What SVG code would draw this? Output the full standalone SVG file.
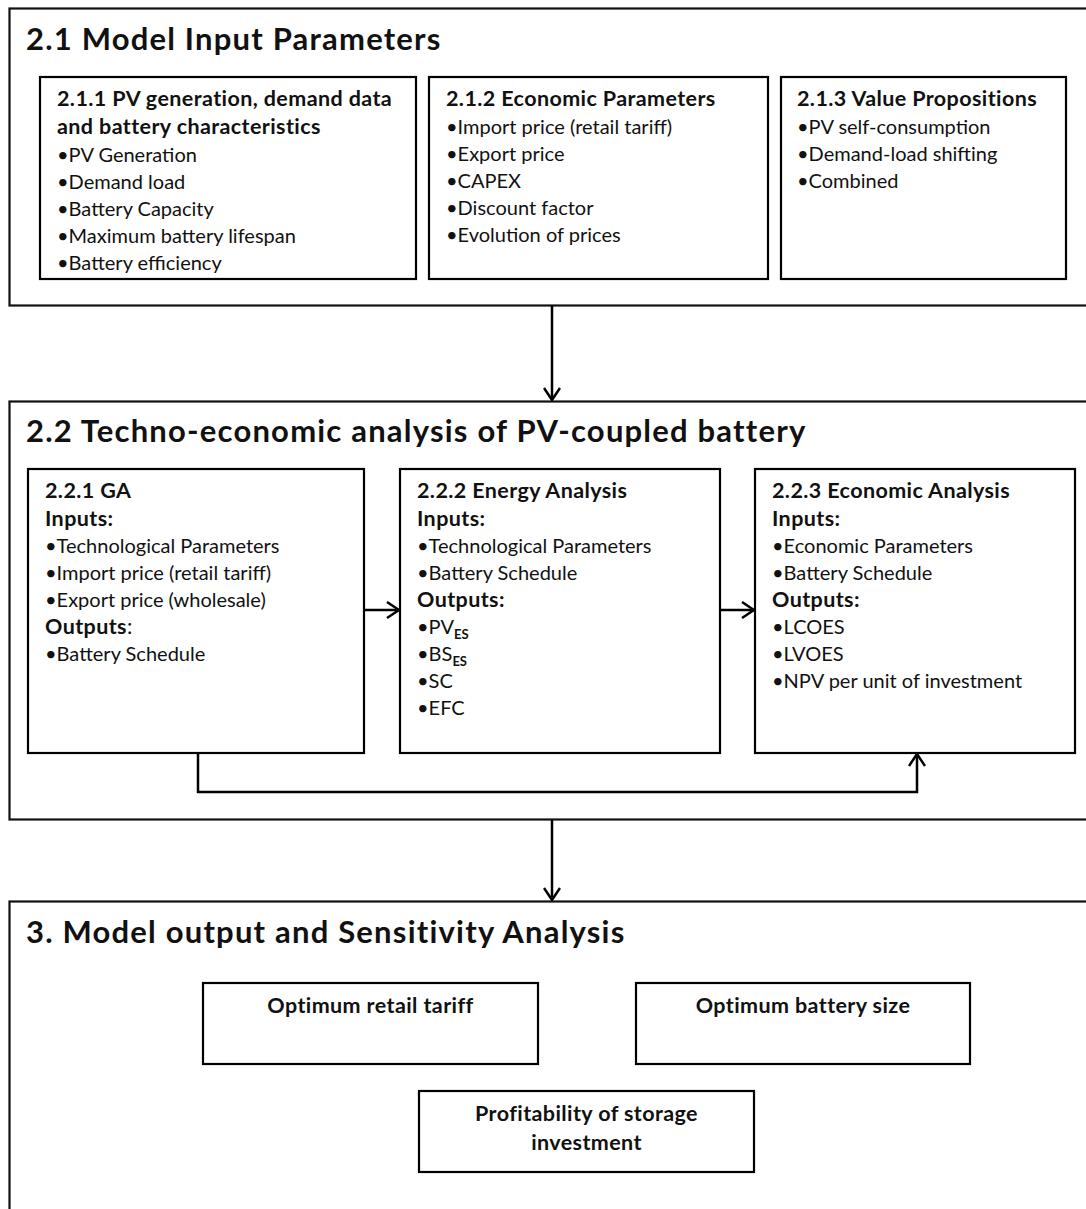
<svg xmlns="http://www.w3.org/2000/svg" width="1086" height="1209" viewBox="0 0 1086 1209">
<style>
.box{fill:none;stroke:#000;stroke-width:2.2}
.sec{fill:none;stroke:#111;stroke-width:2.2}
text{font-family:Lato,"Open Sans","Liberation Sans",sans-serif;fill:#111}
.ti{font-size:31px;font-weight:700;letter-spacing:1.2px}
.h{font-size:21.5px;font-weight:700;letter-spacing:0.4px}
.t{font-size:20px;font-weight:400}
.sub{font-size:13px;font-weight:700}
.conn{fill:none;stroke:#000;stroke-width:2.5}
</style>
<defs>
<marker id="arr" viewBox="0 0 14 18" refX="13" refY="9" markerWidth="14" markerHeight="18" markerUnits="userSpaceOnUse" orient="auto">
<path d="M1,1 L13,9 L1,17" fill="none" stroke="#000" stroke-width="2.5"/>
</marker>
</defs>
<rect width="1086" height="1209" fill="#fff"/>

<g id="sec-2-1">
<rect class="sec" x="9.5" y="8.5" width="1090" height="297"/>
<text class="ti" x="26" y="50">2.1 Model Input Parameters</text>
</g>
<g id="n-2-1-1">
<rect class="box" x="40" y="77" width="376" height="202"/>
<text class="h" x="57" y="106">2.1.1 PV generation, demand data</text>
<text class="h" x="57" y="134">and battery characteristics</text>
<text class="t" x="57" y="162">•PV Generation</text>
<text class="t" x="57" y="189">•Demand load</text>
<text class="t" x="57" y="216">•Battery Capacity</text>
<text class="t" x="57" y="243">•Maximum battery lifespan</text>
<text class="t" x="57" y="270">•Battery efficiency</text>
</g>
<g id="n-2-1-2">
<rect class="box" x="429" y="77" width="339" height="202"/>
<text class="h" x="446" y="106">2.1.2 Economic Parameters</text>
<text class="t" x="446" y="134">•Import price (retail tariff)</text>
<text class="t" x="446" y="161">•Export price</text>
<text class="t" x="446" y="188">•CAPEX</text>
<text class="t" x="446" y="215">•Discount factor</text>
<text class="t" x="446" y="242">•Evolution of prices</text>
</g>
<g id="n-2-1-3">
<rect class="box" x="781" y="77" width="285" height="202"/>
<text class="h" x="797" y="106">2.1.3 Value Propositions</text>
<text class="t" x="797" y="134">•PV self-consumption</text>
<text class="t" x="797" y="161">•Demand-load shifting</text>
<text class="t" x="797" y="188">•Combined</text>
</g>

<g id="sec-2-2">
<rect class="sec" x="9.5" y="401.5" width="1090" height="418"/>
<text class="ti" x="26" y="442">2.2 Techno-economic analysis of PV-coupled battery</text>
</g>
<g id="n-2-2-1">
<rect class="box" x="28" y="469" width="336" height="284"/>
<text class="h" x="45" y="498">2.2.1 GA</text>
<text class="h" x="45" y="526">Inputs:</text>
<text class="t" x="45" y="553">•Technological Parameters</text>
<text class="t" x="45" y="580">•Import price (retail tariff)</text>
<text class="t" x="45" y="607">•Export price (wholesale)</text>
<text class="h" x="45" y="634">Outputs<tspan font-weight="400">:</tspan></text>
<text class="t" x="45" y="661">•Battery Schedule</text>
</g>
<g id="n-2-2-2">
<rect class="box" x="400" y="469" width="320" height="284"/>
<text class="h" x="417" y="498">2.2.2 Energy Analysis</text>
<text class="h" x="417" y="526">Inputs:</text>
<text class="t" x="417" y="553">•Technological Parameters</text>
<text class="t" x="417" y="580">•Battery Schedule</text>
<text class="h" x="417" y="607">Outputs:</text>
<text class="t" x="417" y="634">•PV<tspan class="sub" dy="5">ES</tspan></text>
<text class="t" x="417" y="661">•BS<tspan class="sub" dy="5">ES</tspan></text>
<text class="t" x="417" y="688">•SC</text>
<text class="t" x="417" y="715">•EFC</text>
</g>
<g id="n-2-2-3">
<rect class="box" x="755" y="469" width="320" height="284"/>
<text class="h" x="772" y="498">2.2.3 Economic Analysis</text>
<text class="h" x="772" y="526">Inputs:</text>
<text class="t" x="772" y="553">•Economic Parameters</text>
<text class="t" x="772" y="580">•Battery Schedule</text>
<text class="h" x="772" y="607">Outputs:</text>
<text class="t" x="772" y="634">•LCOES</text>
<text class="t" x="772" y="661">•LVOES</text>
<text class="t" x="772" y="688">•NPV per unit of investment</text>
</g>

<g id="sec-3">
<rect class="sec" x="9.5" y="901.5" width="1090" height="320"/>
<text class="ti" x="26" y="943">3. Model output and Sensitivity Analysis</text>
</g>
<g id="n-tariff">
<rect class="box" x="203" y="983" width="335" height="81"/>
<text class="h" x="370.5" y="1013" text-anchor="middle">Optimum retail tariff</text>
</g>
<g id="n-size">
<rect class="box" x="636" y="983" width="334" height="81"/>
<text class="h" x="803" y="1013" text-anchor="middle">Optimum battery size</text>
</g>
<g id="n-profit">
<rect class="box" x="419" y="1091" width="335" height="81"/>
<text class="h" x="586.5" y="1121" text-anchor="middle">Profitability of storage</text>
<text class="h" x="586.5" y="1150" text-anchor="middle">investment</text>
</g>

<g id="connectors">
<path class="conn" d="M552,306 V400" marker-end="url(#arr)"/>
<path class="conn" d="M552,820 V900" marker-end="url(#arr)"/>
<path class="conn" d="M364,610 H399" marker-end="url(#arr)"/>
<path class="conn" d="M720,610 H754" marker-end="url(#arr)"/>
<path class="conn" d="M198,753 V792 H917 V754" marker-end="url(#arr)"/>
</g>
</svg>
